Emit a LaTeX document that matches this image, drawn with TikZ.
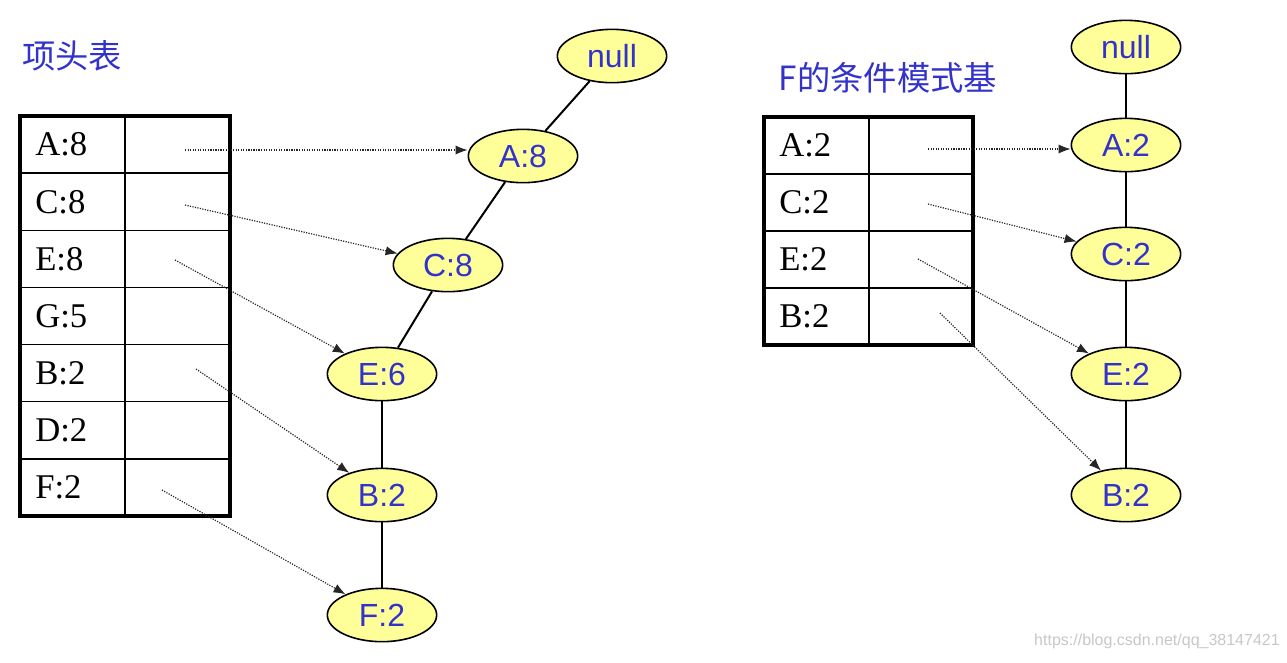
\documentclass[tikz,border=0pt]{standalone}
\usepackage{fontspec}
\setmainfont{Liberation Serif}
\newfontfamily\arialf{Liberation Sans}
\newfontfamily\cjkf{Noto Sans CJK SC}
\usetikzlibrary{shapes.geometric,arrows.meta}
\definecolor{nodeblue}{RGB}{51,51,204}
\definecolor{nodefill}{RGB}{255,255,153}
\begin{document}
\begin{tikzpicture}[x=0.75pt,y=-0.75pt,
  tnode/.style={ellipse, draw, line width=1.2pt, fill=nodefill, minimum width=82pt,
    minimum height=40pt, inner sep=0pt, font=\arialf\fontsize{24}{24}\selectfont, text=nodeblue},
  treeedge/.style={line width=1.5pt},
  ptr/.style={densely dotted, line width=0.9pt, draw=black!85, -{Latex[length=9pt,width=7pt]}},
  lbl/.style={anchor=west, font=\fontsize{26}{26}\selectfont, inner sep=0pt},
  title/.style={font=\cjkf\fontsize{25}{25}\selectfont, text=nodeblue, inner sep=0pt},
  outer/.style={line width=2.3pt},
  inner/.style={line width=1.1pt}]
\useasboundingbox (0,0) rectangle (1287,662);

% ---------- titles ----------
\node[title] (t1) at (72,56) {项头表};
\node[title] (t2) at (888,78) {F的条件模式基};

% ---------- left table ----------
\foreach \i in {1,...,6} {
  \draw[inner] (20,{116+\i*400/7}) -- (230,{116+\i*400/7});
}
\draw[inner] (125,116) -- (125,516);
\draw[outer] (20,116) rectangle (230,516);
\foreach \t [count=\i] in {A:8,C:8,E:8,G:5,B:2,D:2,F:2} {
  \node[lbl] (L\i) at (35,{116+(\i-0.5)*400/7}) {\t};
}

% ---------- left tree ----------
\node[tnode] (n0) at (612,56) {null};
\node[tnode] (nA) at (523,156) {A:8};
\node[tnode] (nC) at (448,265) {C:8};
\node[tnode] (nE) at (382,374) {E:6};
\node[tnode] (nB) at (382,495) {B:2};
\node[tnode] (nF) at (382,615) {F:2};
\draw[treeedge] (n0) -- (nA);
\draw[treeedge] (nA) -- (nC);
\draw[treeedge] (nC) -- (nE);
\draw[treeedge] (nE) -- (nB);
\draw[treeedge] (nB) -- (nF);

\coordinate (sA) at (185,150);
\coordinate (sC) at (185,205);
\coordinate (sE) at (175,260);
\coordinate (sB) at (196,369);
\coordinate (sF) at (162,490);
\draw[ptr] (sA) -- (nA.west |- sA);
\draw[ptr] (sC) -- (nC);
\draw[ptr] (sE) -- (nE);
\draw[ptr] (sB) -- (nB);
\draw[ptr] (sF) -- (nF);

% ---------- right table ----------
\foreach \i in {1,2,3} {
  \draw[inner] (764,{117+\i*57}) -- (973,{117+\i*57});
}
\draw[inner] (869,117) -- (869,345);
\draw[outer] (764,117) rectangle (973,345);
\foreach \t [count=\i] in {A:2,C:2,E:2,B:2} {
  \node[lbl] (R\i) at (779,{117+(\i-0.5)*57}) {\t};
}

% ---------- right tree ----------
\node[tnode] (m0) at (1126,47) {null};
\node[tnode] (mA) at (1126,145) {A:2};
\node[tnode] (mC) at (1126,254) {C:2};
\node[tnode] (mE) at (1126,374) {E:2};
\node[tnode] (mB) at (1126,495) {B:2};
\draw[treeedge] (m0) -- (mA);
\draw[treeedge] (mA) -- (mC);
\draw[treeedge] (mC) -- (mE);
\draw[treeedge] (mE) -- (mB);

\coordinate (rA) at (928,149);
\coordinate (rC) at (928,204);
\coordinate (rE) at (918,259);
\coordinate (rB) at (940,313);
\draw[ptr] (rA) -- (mA.west |- rA);
\draw[ptr] (rC) -- (mC);
\draw[ptr] (rE) -- (mE);
\draw[ptr] (rB) -- (mB);

% ---------- watermark ----------
\node[anchor=east, font=\arialf\fontsize{12}{12}\selectfont, text=black!22, inner sep=0pt] (wm) at (1280,641) {https://blog.csdn.net/qq\_38147421};
\end{tikzpicture}
\end{document}
